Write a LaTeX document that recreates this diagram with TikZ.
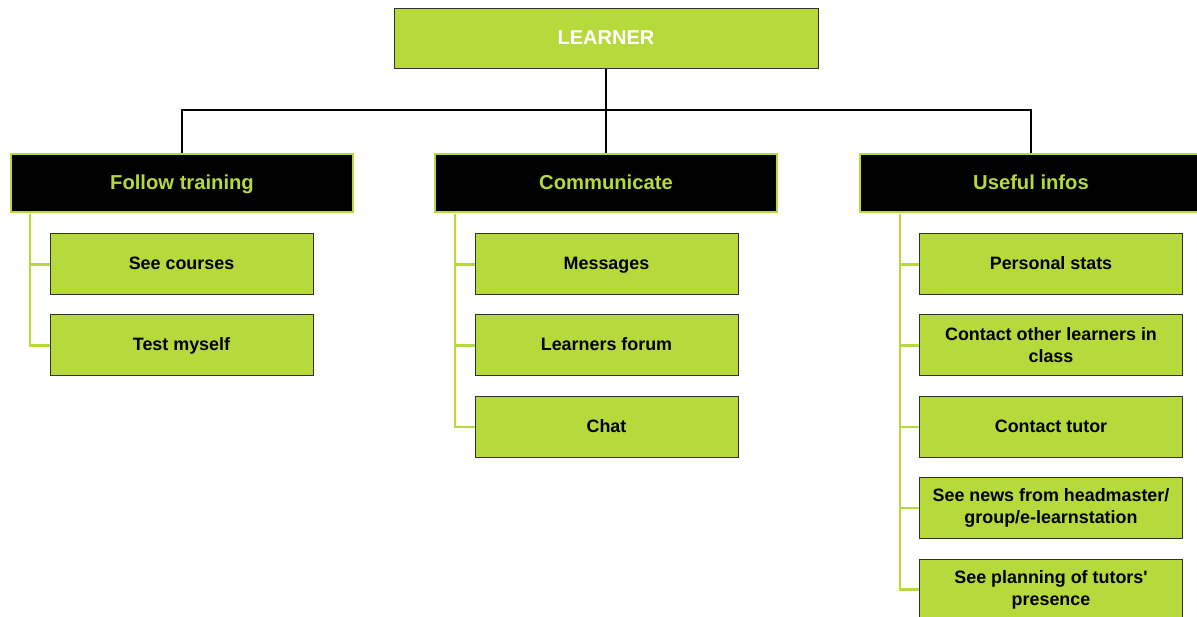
\documentclass[tikz,border=0pt]{standalone}
\usepackage{fontspec}
\setmainfont{Liberation Sans}[Ligatures=TeXOff]
\definecolor{lgreen}{RGB}{182,217,60}
\definecolor{edge}{RGB}{50,50,40}
\begin{document}
\begin{tikzpicture}[x=1pt,y=-1pt,
  topbox/.style={draw=edge,line width=1pt,fill=lgreen,minimum width=424pt,minimum height=60pt,inner sep=0pt,text height=15.5pt,text depth=3.5pt,text=white,font=\fontsize{20}{22}\selectfont\bfseries},
  catbox/.style={draw=lgreen,line width=2.8pt,fill=black,minimum width=342pt,minimum height=58pt,inner sep=0pt,text height=16pt,text depth=2pt,text=lgreen,font=\fontsize{20.2}{22}\selectfont\bfseries},
  leafbase/.style={draw=edge,line width=1pt,fill=lgreen,minimum width=263pt,minimum height=61pt,inner sep=0pt,align=center,text=black,font=\fontsize{17.9}{22}\selectfont\bfseries},
  leafbox/.style={leafbase,text height=14pt,text depth=3pt},
  blk/.style={draw=black,line width=2.8pt},
  grn/.style={draw=lgreen,line width=2.8pt}]
\useasboundingbox (0,0) rectangle (1197,617);
\node[topbox] (L) at (606,39) {LEARNER};
\node[catbox] (F) at (182,183) {Follow training};
\node[catbox] (C) at (606,183) {Communicate};
\node[catbox] (U) at (1031,183) {Useful infos};
\coordinate (j) at (606,110);
\draw[blk] (L.south) -- (j);
\draw[blk] (F.north) |- (j) -| (U.north);
\draw[blk] (j) -- (C.north);
% children
\node[leafbox] (f1) at (181.5,264.5) {See courses};
\node[leafbox] (f2) at (181.5,345.5) {Test myself};
\node[leafbox] (c1) at (606.5,264.5) {Messages};
\node[leafbox] (c2) at (606.5,345.5) {Learners forum};
\node[leafbox] (c3) at (606.5,427) {Chat};
\node[leafbox] (u1) at (1051,264.5) {Personal stats};
\node[leafbase] (u2) at (1051,345.5) {Contact other learners in\\class};
\node[leafbox] (u3) at (1051,427) {Contact tutor};
\node[leafbase] (u4) at (1051,508) {See news from headmaster/\\group/e-learnstation};
\node[leafbase] (u5) at (1051,589.5) {See planning of tutors'\\presence};
% green connectors
\coordinate (fa) at (30,214);
\coordinate (ca) at (455,214);
\coordinate (ua) at (900,214);
\draw[grn] (fa) |- (f2.west);
\draw[grn] (fa |- f1.west) -- (f1.west);
\draw[grn] (ca) |- (c3.west);
\foreach \n in {c1,c2} \draw[grn] (ca |- \n.west) -- (\n.west);
\draw[grn] (ua) |- (u5.west);
\foreach \n in {u1,u2,u3,u4} \draw[grn] (ua |- \n.west) -- (\n.west);
\end{tikzpicture}
\end{document}
